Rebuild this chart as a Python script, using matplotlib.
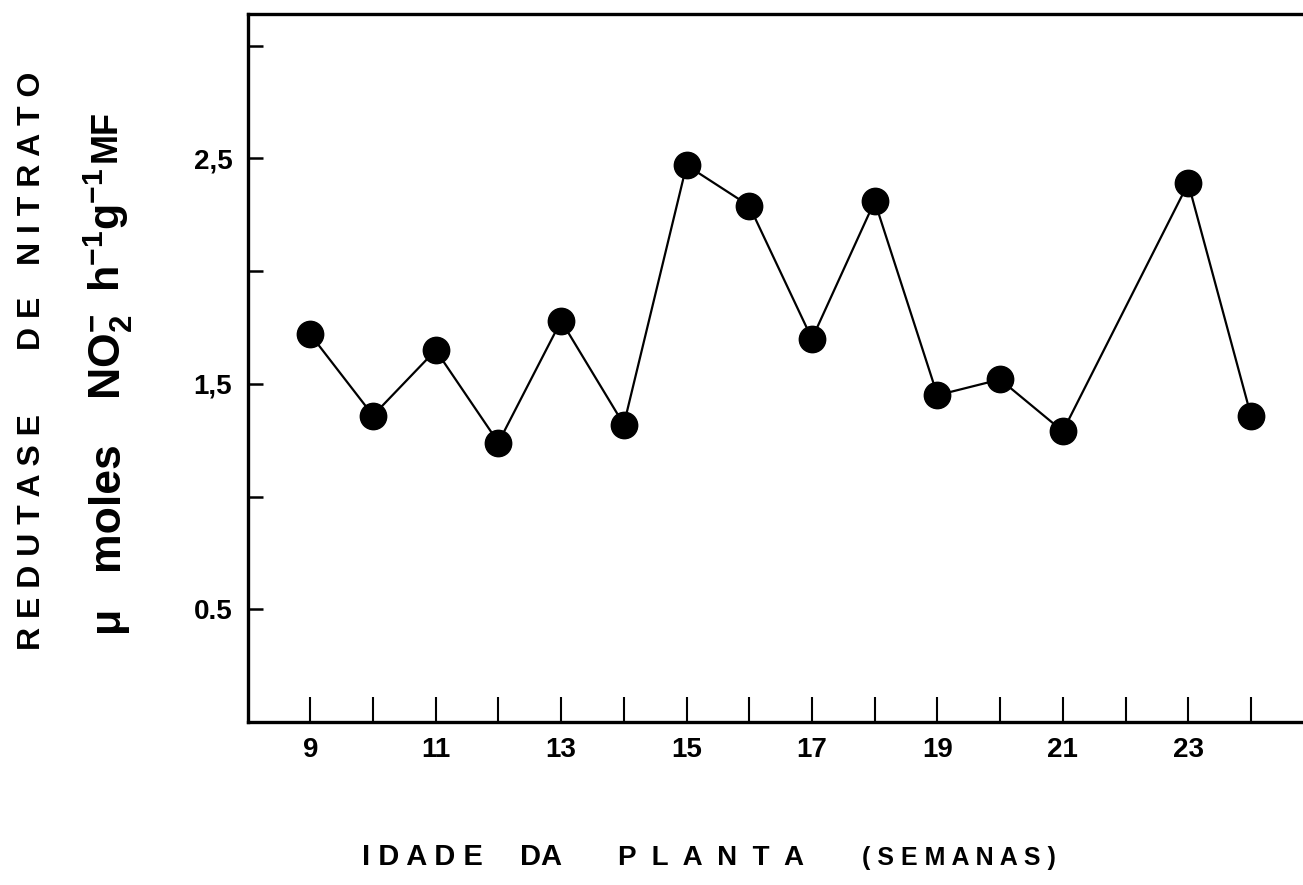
import matplotlib.pyplot as plt
from matplotlib.ticker import FixedLocator

plt.rcParams['font.family'] = ['Liberation Sans', 'DejaVu Sans']
plt.rcParams['mathtext.fontset'] = 'custom'
plt.rcParams['mathtext.rm'] = 'Liberation Sans:bold'
plt.rcParams['mathtext.it'] = 'Liberation Sans:bold'
plt.rcParams['mathtext.bf'] = 'Liberation Sans:bold'
plt.rcParams['mathtext.default'] = 'rm'

# weeks sampled (no sample at week 22)
semanas = [9, 10, 11, 12, 13, 14, 15, 16, 17, 18, 19, 20, 21, 23, 24]
atividade = [1.72, 1.36, 1.65, 1.24, 1.78, 1.32, 2.47, 2.29, 1.70, 2.31,
             1.45, 1.52, 1.29, 2.39, 1.36]

x_ticks = list(range(9, 25))
x_labels = [str(w) if w % 2 == 1 else '' for w in x_ticks]
y_ticks = [0.5, 1.0, 1.5, 2.0, 2.5, 3.0]
y_labels = ['0.5', '', '1,5', '', '2,5', '']

W, H = 1303, 885


def spaced(word, gap=' '):
    return gap.join(word)


fig = plt.figure(figsize=(W / 100, H / 100), dpi=100)
ax = fig.add_axes([0.19, 0.184, 0.81, 0.8])

ax.plot(semanas, atividade, color='black', linewidth=1.6,
        marker='o', markersize=19, markerfacecolor='black',
        markeredgecolor='black')

ax.set_xlim(8, 24.83)
ax.set_ylim(0, 3.14)

ax.xaxis.set_major_locator(FixedLocator(x_ticks))
ax.set_xticklabels(x_labels)
ax.yaxis.set_major_locator(FixedLocator(y_ticks))
ax.set_yticklabels(y_labels)

ax.tick_params(axis='x', direction='in', length=18, width=1.5, pad=11,
               labelsize=20)
ax.tick_params(axis='y', direction='in', length=11, width=1.8, pad=11,
               labelsize=20)
for lab in ax.get_xticklabels() + ax.get_yticklabels():
    lab.set_fontweight('bold')

for side in ['left', 'bottom', 'top']:
    ax.spines[side].set_linewidth(2.4)
ax.spines['right'].set_visible(False)

# y axis title, first line, word by word (pixel start from the bottom)
for word, y0 in [('REDUTASE', 650), ('DE', 350), ('NITRATO', 265)]:
    fig.text(40 / W, 1 - y0 / H, spaced(word), rotation=90,
             rotation_mode='anchor', ha='left', va='baseline',
             fontsize=23, fontweight='bold')

# y axis title, second line (units): text, start y, baseline x, size
unidades = [('\u03bc', 632, 118, 31), ('moles', 570, 118, 32),
            ('NO$_2^{-}$', 400, 120, 32), ('h$^{-1}$', 292, 120, 31),
            ('g$^{-1}$', 230, 120, 31), ('MF', 162, 116, 26)]
for txt, y0, xb, fs in unidades:
    fig.text(xb / W, 1 - y0 / H, txt, rotation=90,
             rotation_mode='anchor', ha='left', va='baseline',
             fontsize=fs, fontweight='bold')

# x axis title
for word, x0, gap, fs in [('IDADE', 362, ' ', 21), ('DA', 520, '', 21),
                          ('PLANTA', 618, '  ', 20),
                          ('(SEMANAS)', 862, ' ', 18)]:
    fig.text(x0 / W, 1 - 865 / H, spaced(word, gap), ha='left',
             va='baseline', fontsize=fs, fontweight='bold')

fig.savefig('out.png', dpi=100)
